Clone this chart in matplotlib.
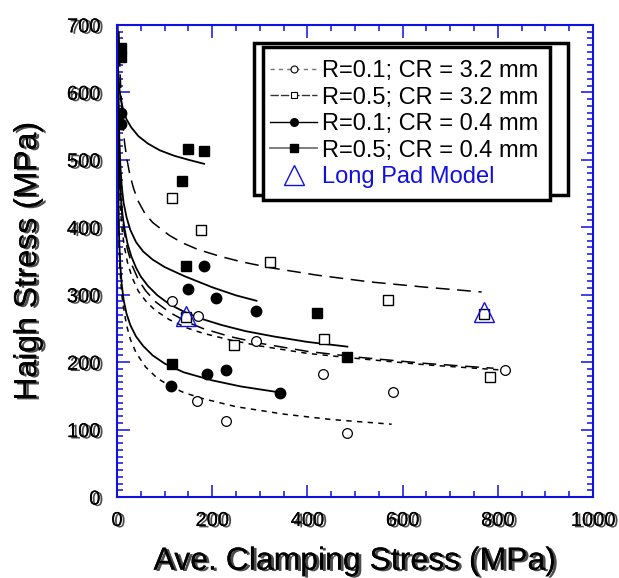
import matplotlib
matplotlib.use('Agg')
import matplotlib.pyplot as plt
import matplotlib.patheffects as pe
from matplotlib.patches import Rectangle
from matplotlib.lines import Line2D

plt.rcParams['font.family'] = ['Liberation Sans', 'DejaVu Sans']

r01_cr32_x = [116, 171, 291, 433, 580, 815, 169, 230, 484]
r01_cr32_y = [291, 269, 232, 182, 156, 188, 143, 113, 95]

r05_cr32_x = [116, 176, 322, 570, 771, 146, 246, 435, 784]
r05_cr32_y = [444, 396, 349, 292, 272, 267, 226, 234, 178]

r01_cr04_x = [8, 8, 183, 150, 209, 293, 190, 229, 343, 113]
r01_cr04_y = [570, 553, 343, 309, 295, 276, 182, 189, 155, 164]

r05_cr04_x = [8, 8, 150, 183, 136, 145, 421, 484, 115]
r05_cr04_y = [665, 653, 516, 513, 469, 343, 273, 207, 197]

long_pad_x = [146, 771]
long_pad_y = [268, 274]

# fitted curves
fit_r01_cr32_hi_x = [1.5, 2, 3, 4, 6, 8, 11, 15, 22, 32, 45, 60, 80, 110, 146, 180, 237, 300, 400, 511, 650, 815]
fit_r01_cr32_hi_y = [670, 620, 550, 505, 450, 420, 395, 373, 348, 325, 305, 291, 277, 263, 251, 243, 233, 224, 213, 205, 196, 188]
fit_r01_cr32_lo_x = [1, 1.5, 2, 3, 4, 5, 7, 10, 14, 20, 28, 40, 60, 85, 113, 140, 180, 250, 350, 450, 577]
fit_r01_cr32_lo_y = [680, 570, 500, 425, 385, 360, 330, 300, 280, 255, 234, 214, 193, 176, 164, 155, 146, 134, 123, 115, 108]

fit_r05_cr32_hi_x = [4, 5, 7, 9, 12, 16, 21, 27, 35, 45, 59, 75, 95, 110, 137, 170, 216, 260, 322, 420, 531, 650, 766]
fit_r05_cr32_hi_y = [690, 660, 620, 590, 555, 525, 500, 478, 457, 438, 420, 407, 396, 388, 377, 367, 357, 349, 340, 329, 319, 311, 304]
fit_r05_cr32_lo_x = [1.5, 2, 3, 4, 6, 8, 11, 15, 22, 32, 45, 60, 80, 110, 146, 180, 237, 300, 400, 511, 650, 791]
fit_r05_cr32_lo_y = [690, 640, 575, 530, 475, 442, 417, 394, 367, 343, 322, 306, 290, 274, 260, 250, 238, 228, 216, 207, 198, 191]

fit_r01_cr04_hi_x = [1.5, 2, 3, 4, 5, 7, 10, 14, 20, 28, 40, 55, 75, 100, 140, 200, 250, 293]
fit_r01_cr04_hi_y = [700, 660, 600, 560, 530, 492, 460, 436, 415, 396, 378, 364, 352, 341, 328, 311, 299, 291]
fit_r01_cr04_lo_x = [1, 1.5, 2, 3, 4, 5, 7, 10, 14, 20, 28, 40, 55, 75, 100, 115, 140, 200, 260, 343]
fit_r01_cr04_lo_y = [690, 580, 515, 440, 400, 375, 343, 315, 292, 272, 255, 238, 224, 210, 198, 193, 185, 173, 164, 155]

fit_r05_cr04_hi_x = [1, 2, 3, 5, 8, 13, 20, 30, 45, 65, 90, 120, 150, 183]
fit_r05_cr04_hi_y = [664, 638, 624, 606, 590, 574, 560, 548, 535, 524, 514, 506, 500, 494]
fit_r05_cr04_lo_x = [1.5, 2, 3, 4, 5, 7, 9, 12, 16, 22, 30, 40, 50, 65, 85, 110, 140, 174, 220, 270, 330, 400, 484]
fit_r05_cr04_lo_y = [680, 630, 565, 520, 490, 456, 437, 416, 397, 376, 357, 340, 327, 313, 299, 286, 275, 265, 255, 246, 238, 230, 223]

labels = ['R=0.1; CR = 3.2 mm', 'R=0.5; CR = 3.2 mm',
          'R=0.1; CR = 0.4 mm', 'R=0.5; CR = 0.4 mm', 'Long Pad Model']

short_dash = (0, (3.5, 3.5))
long_dash = (0, (9, 5))
blue = '#1010e0'

fig = plt.figure(figsize=(6.19, 5.78), dpi=100)
ax = fig.add_axes([0.189, 0.140, 0.769, 0.817])

# curves
ax.plot(fit_r01_cr32_hi_x, fit_r01_cr32_hi_y, color='k', lw=1.1, ls=short_dash)
ax.plot(fit_r01_cr32_lo_x, fit_r01_cr32_lo_y, color='k', lw=1.1, ls=short_dash)
ax.plot(fit_r05_cr32_hi_x, fit_r05_cr32_hi_y, color='k', lw=1.1, ls=long_dash)
ax.plot(fit_r05_cr32_lo_x, fit_r05_cr32_lo_y, color='k', lw=1.1, ls=long_dash)
ax.plot(fit_r01_cr04_hi_x, fit_r01_cr04_hi_y, color='k', lw=1.3)
ax.plot(fit_r01_cr04_lo_x, fit_r01_cr04_lo_y, color='k', lw=1.3)
ax.plot(fit_r05_cr04_hi_x, fit_r05_cr04_hi_y, color='k', lw=1.3)
ax.plot(fit_r05_cr04_lo_x, fit_r05_cr04_lo_y, color='k', lw=1.3)

# points
ax.plot(r01_cr32_x, r01_cr32_y, 'o', ms=7, mfc='white', mec='k', mew=0.9, ls='none')
ax.plot(r05_cr32_x, r05_cr32_y, 's', ms=6.5, mfc='white', mec='k', mew=1.0, ls='none')
ax.plot(r01_cr04_x, r01_cr04_y, 'o', ms=7.5, color='k', ls='none')
ax.plot(r05_cr04_x, r05_cr04_y, 's', ms=7.5, color='k', ls='none')
ax.plot(long_pad_x, long_pad_y, '^', ms=15, mfc='none', mec=blue, mew=1.0, ls='none')

ax.set_xlim(0, 1000)
ax.set_ylim(0, 700)
ax.set_xticks(range(0, 1001, 200))
ax.set_xticks(range(0, 1001, 50), minor=True)
ax.set_yticks(range(0, 701, 100))
ax.set_yticks(range(0, 701, 10), minor=True)
ax.tick_params(which='both', direction='in', top=True, right=True, color=blue, width=1.1)
ax.tick_params(which='major', length=9)
ax.tick_params(which='minor', length=4.5)
ax.tick_params(axis='y', which='major', labelsize=14.5, pad=12)
ax.tick_params(axis='x', which='major', labelsize=14.5, pad=10)
for s in ax.spines.values():
    s.set_color(blue)
    s.set_linewidth(1.5)

ghost = [pe.withSimplePatchShadow(offset=(2, -1), shadow_rgbFace='k', alpha=0.7), pe.Normal()]
for t in ax.get_xticklabels() + ax.get_yticklabels():
    t.set_path_effects(ghost)

ax.set_xlabel('Ave. Clamping Stress (MPa)', fontsize=23, labelpad=12, path_effects=ghost)
ax.set_ylabel('Haigh Stress (MPa)', fontsize=23, labelpad=17, path_effects=ghost)

# legend boxes (double frame)
ax.add_patch(Rectangle((254 / 619, 1 - 195 / 578), (568 - 254) / 619, (195 - 43) / 578,
                       transform=fig.transFigure, fc='white', ec='k', lw=2.5, zorder=4))
ax.add_patch(Rectangle((263 / 619, 1 - 200 / 578), (550 - 263) / 619, (200 - 47) / 578,
                       transform=fig.transFigure, fc='white', ec='k', lw=2.5, zorder=4.5))

handles = [
    Line2D([], [], color='0.45', lw=1, ls=(0, (3, 3)), marker='o', ms=5, mfc='white', mec='k', mew=0.8),
    Line2D([], [], color='0.2', lw=1, ls=(0, (6, 1.5)), marker='s', ms=5, mfc='white', mec='k', mew=0.8),
    Line2D([], [], color='k', lw=1, marker='o', ms=5.5),
    Line2D([], [], color='0.45', lw=1.3, marker='s', mfc='k', mec='k', ms=6),
    Line2D([], [], color=blue, lw=0, marker='^', ms=14, mfc='none', mec=blue, mew=1.0),
]
leg = ax.legend(handles, labels, loc='upper left', bbox_to_anchor=(263 / 619, 1 - 53 / 578),
                bbox_transform=fig.transFigure, frameon=False, fontsize=17,
                borderaxespad=0, borderpad=0.3, handlelength=2.0, handletextpad=0.22,
                labelspacing=0.19)
leg.set_zorder(5)
leg.get_texts()[4].set_color(blue)

fig.savefig('out.png', dpi=100)
